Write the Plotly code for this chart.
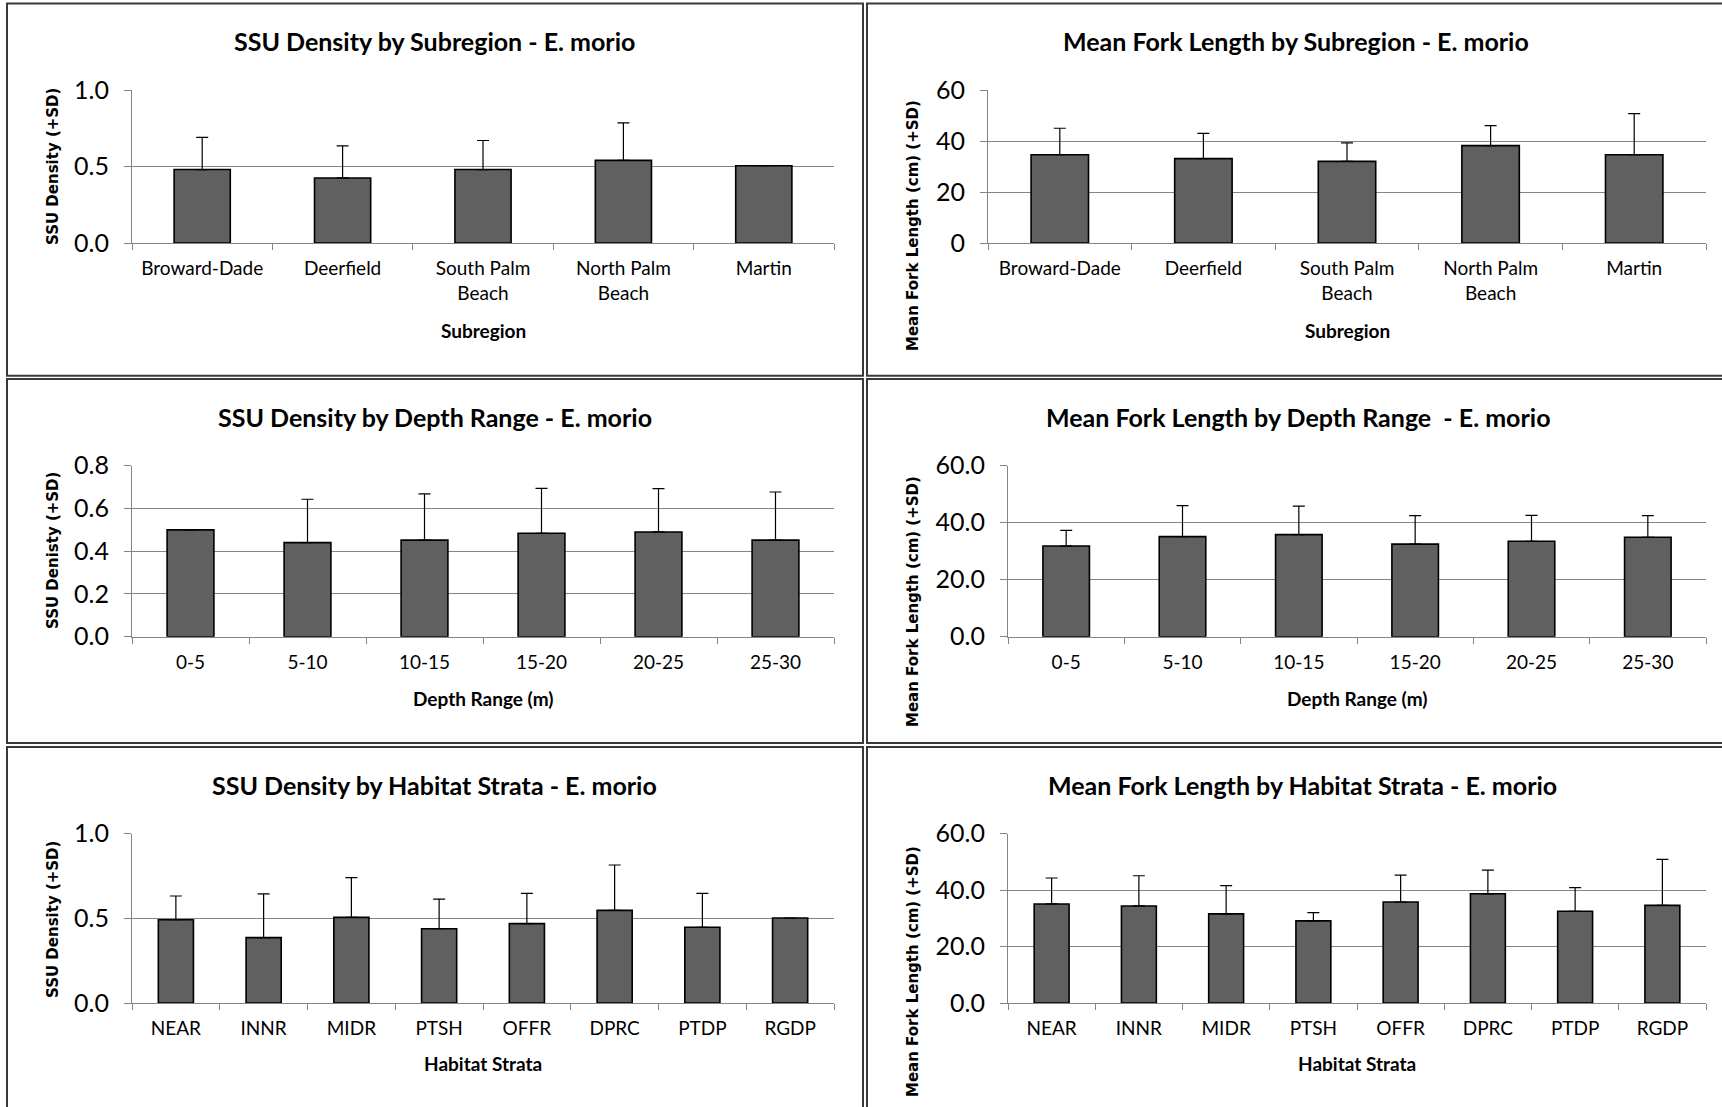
import plotly.graph_objects as go

# Subregion data
subregions = ["Broward-Dade", "Deerfield", "South Palm Beach", "North Palm Beach", "Martin"]
subregion_labels = ["Broward-Dade", "Deerfield", "South Palm<br>Beach", "North Palm<br>Beach", "Martin"]
sub_density = [0.48, 0.425, 0.48, 0.54, 0.505]
sub_density_sd = [0.21, 0.21, 0.19, 0.245, 0]
sub_fl = [34.6, 33.1, 32.0, 38.2, 34.6]
sub_fl_sd = [10.4, 9.9, 7.3, 7.8, 16.1]

# Depth range data
depths = ["0-5", "5-10", "10-15", "15-20", "20-25", "25-30"]
depth_density = [0.50, 0.44, 0.452, 0.484, 0.49, 0.452]
depth_density_sd = [0, 0.203, 0.216, 0.21, 0.203, 0.225]
depth_fl = [31.8, 35.1, 35.8, 32.5, 33.5, 34.9]
depth_fl_sd = [5.5, 10.9, 10.0, 10.0, 9.1, 7.6]

# Habitat strata data
habitats = ["NEAR", "INNR", "MIDR", "PTSH", "OFFR", "DPRC", "PTDP", "RGDP"]
hab_density = [0.492, 0.386, 0.506, 0.439, 0.469, 0.547, 0.447, 0.502]
hab_density_sd = [0.14, 0.258, 0.234, 0.175, 0.179, 0.268, 0.201, 0]
hab_fl = [35.1, 34.4, 31.6, 29.1, 35.8, 38.7, 32.5, 34.6]
hab_fl_sd = [9.2, 10.7, 10.0, 2.9, 9.5, 8.4, 8.4, 16.3]

W, H = 1722, 1107
BODY = "Lato, 'Open Sans', sans-serif"
YFONT = "'DejaVu Sans', Verdana, sans-serif"
GRID = "#858585"

fig = go.Figure()
layout = dict(width=W, height=H, margin=dict(l=0, r=0, t=0, b=0, pad=0),
              paper_bgcolor="white", plot_bgcolor="white", showlegend=False,
              bargap=0.6)
annotations = []
shapes = []


def px_x(x):
    return x / W


def px_y(y):
    return 1 - y / H


def panel(i, cats, ticklabels, vals, sds, x_px, y_px, yrange, dtick, fmt,
          title, title_xy, xtitle, xtitle_xy, ytitle, ytitle_xy):
    xa = "x" if i == 1 else "x%d" % i
    ya = "y" if i == 1 else "y%d" % i
    fig.add_trace(go.Bar(
        x=cats, y=vals, xaxis=xa, yaxis=ya,
        marker=dict(color="#606060", line=dict(color="black", width=1.6)),
        error_y=dict(type="data", symmetric=False, array=sds,
                     arrayminus=[0] * len(sds), color="black",
                     thickness=1.2, width=6),
    ))
    layout["xaxis" if i == 1 else "xaxis%d" % i] = dict(
        domain=[px_x(x_px[0]), px_x(x_px[1])], anchor=ya, automargin=False,
        type="category", tickmode="array", tickvals=cats, ticktext=ticklabels,
        showline=True, linecolor=GRID, linewidth=1,
        ticks="outside", tickson="boundaries", ticklen=6, tickcolor=GRID,
        showgrid=False, ticklabelstandoff=8,
        tickfont=dict(family=BODY, size=19, color="black"),
    )
    layout["yaxis" if i == 1 else "yaxis%d" % i] = dict(
        domain=[px_y(y_px[1]), px_y(y_px[0])], anchor=xa, automargin=False,
        range=yrange, dtick=dtick, tick0=0, tickformat=fmt,
        showline=True, linecolor=GRID, linewidth=1,
        showgrid=True, gridcolor=GRID, gridwidth=1, zeroline=False,
        ticks="outside", ticklen=7, tickcolor=GRID, ticklabelstandoff=10,
        tickfont=dict(family=BODY, size=25, color="black"),
    )
    annotations.append(dict(text="<b>%s</b>" % title, x=px_x(title_xy[0]), y=px_y(title_xy[1]),
                            xref="paper", yref="paper", showarrow=False,
                            xanchor="center", yanchor="middle",
                            font=dict(family=BODY, size=25, color="black")))
    annotations.append(dict(text="<b>%s</b>" % xtitle, x=px_x(xtitle_xy[0]), y=px_y(xtitle_xy[1]),
                            xref="paper", yref="paper", showarrow=False,
                            xanchor="center", yanchor="middle",
                            font=dict(family=BODY, size=19, color="black")))
    annotations.append(dict(text="<b>%s</b>" % ytitle, x=px_x(ytitle_xy[0]), y=px_y(ytitle_xy[1]),
                            xref="paper", yref="paper", showarrow=False, textangle=-90,
                            xanchor="center", yanchor="middle",
                            font=dict(family=YFONT, size=15, color="black")))


panel(1, subregions, subregion_labels, sub_density, sub_density_sd,
      (132, 834), (90, 243), [0, 1], 0.5, ".1f",
      "SSU Density by Subregion - E. morio", (435, 41),
      "Subregion", (483, 330), "SSU Density (+SD)", (53, 167))
panel(2, subregions, subregion_labels, sub_fl, sub_fl_sd,
      (988, 1706), (90, 243), [0, 60], 20, "d",
      "Mean Fork Length by Subregion - E. morio", (1296, 41),
      "Subregion", (1347, 330), "Mean Fork Length (cm) (+SD)", (913, 226))
panel(3, depths, depths, depth_density, depth_density_sd,
      (132, 834), (465.7, 636.7), [0, 0.8], 0.2, ".1f",
      "SSU Density by Depth Range - E. morio", (435, 417),
      "Depth Range (m)", (483, 698), "SSU Denisty (+SD)", (53, 551))
panel(4, depths, depths, depth_fl, depth_fl_sd,
      (1008, 1706), (465.7, 636.7), [0, 60], 20, ".1f",
      "Mean Fork Length by Depth Range  - E. morio", (1298, 417),
      "Depth Range (m)", (1357, 698), "Mean Fork Length (cm) (+SD)", (913, 602))
panel(5, habitats, habitats, hab_density, hab_density_sd,
      (132, 834), (833.7, 1003), [0, 1], 0.5, ".1f",
      "SSU Density by Habitat Strata - E. morio", (435, 785),
      "Habitat Strata", (483, 1063), "SSU Density (+SD)", (53, 920))
panel(6, habitats, habitats, hab_fl, hab_fl_sd,
      (1008, 1706), (833.7, 1003), [0, 60], 20, ".1f",
      "Mean Fork Length by Habitat Strata - E. morio", (1302, 785),
      "Habitat Strata", (1357, 1063), "Mean Fork Length (cm) (+SD)", (913, 972))

# chart borders
for x0, x1 in [(7, 863), (867, 1730)]:
    for y0, y1 in [(3.5, 375.7), (379, 743), (747, 1115)]:
        shapes.append(dict(type="rect", xref="paper", yref="paper",
                           x0=px_x(x0), x1=px_x(x1), y0=px_y(y1), y1=px_y(y0),
                           line=dict(color="#3a3a3a", width=2), layer="above"))

layout["annotations"] = annotations
layout["shapes"] = shapes
fig.update_layout(**layout)

# drop the browser's default 8px body margin so the figure sits at the page corner
fig.write_html("out.html", config={"displayModeBar": False},
               post_script="document.body.style.margin='0';")
